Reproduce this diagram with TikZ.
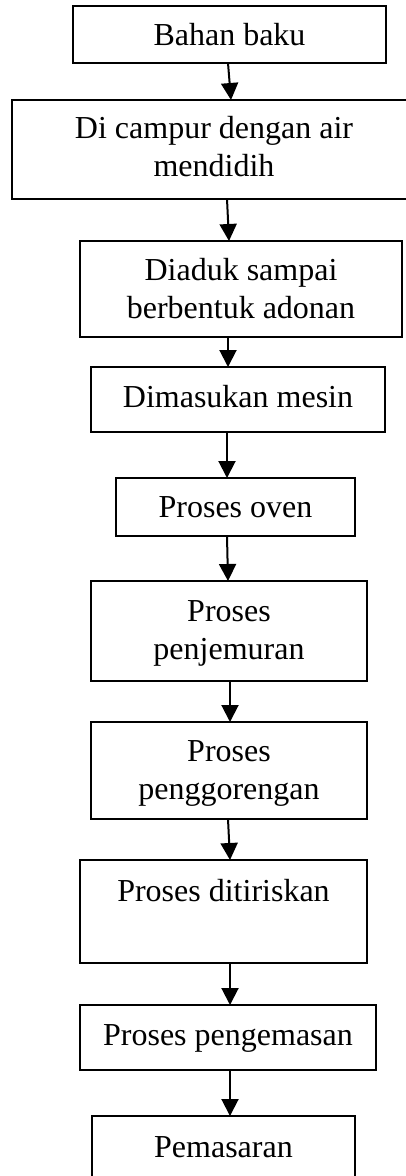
\documentclass[tikz,border=0pt]{standalone}
\usepackage{fontspec}
\setmainfont{Liberation Serif}
\usetikzlibrary{arrows.meta}
\begin{document}
\begin{tikzpicture}[x=1pt,y=-1pt,
  box/.style={draw=black, line width=1.3pt, rectangle, inner sep=0pt, outer sep=0pt},
  txt/.style={anchor=base, align=center, inner sep=0pt, font=\fontsize{32}{37.6}\selectfont},
  arr/.style={line width=2pt, -{Triangle[width=17pt,length=17pt]}}]
\useasboundingbox (0,0) rectangle (406,1176);
\clip (0,0) rectangle (406,1176);
\fill[white] (0,0) rectangle (406,1176);
% boxes
\node[box, minimum width=313pt, minimum height=57pt] (b1) at (229.5,34.5) {};
\node[box, minimum width=404pt, minimum height=99pt] (b2) at (214,149.5) {};
\node[box, minimum width=322pt, minimum height=96pt] (b3) at (241,289) {};
\node[box, minimum width=294pt, minimum height=65pt] (b4) at (238,399.5) {};
\node[box, minimum width=239pt, minimum height=58pt] (b5) at (235.5,507) {};
\node[box, minimum width=276pt, minimum height=100pt] (b6) at (229,631) {};
\node[box, minimum width=276pt, minimum height=97pt] (b7) at (229,770.5) {};
\node[box, minimum width=287pt, minimum height=103pt] (b8) at (223.5,911.5) {};
\node[box, minimum width=296pt, minimum height=65pt] (b9) at (228,1037.5) {};
\node[box, minimum width=263pt, minimum height=74pt] (b10) at (223.5,1153) {};
% texts (for two-line texts the base anchor is the last line)
\node[txt] (t1) at (229.5,45.7) {Bahan baku};
\node[txt] (t2) at (214,176) {Di campur dengan air\\mendidih};
\node[txt] (t3) at (241,318.5) {Diaduk sampai\\berbentuk adonan};
\node[txt] (t4) at (238,407.3) {Dimasukan mesin};
\node[txt] (t5) at (235.5,517.7) {Proses oven};
\node[txt] (t6) at (229,659.3) {Proses\\penjemuran};
\node[txt] (t7) at (229,799.3) {Proses\\penggorengan};
\node[txt] (t8) at (223.5,901.7) {Proses ditiriskan};
\node[txt] (t9) at (228,1045) {Proses pengemasan};
\node[txt] (t10) at (223.5,1157.7) {Pemasaran};
% arrows
\draw[arr] ([xshift=155pt]b1.south west) -- ([xshift=219pt]b2.north west);
\draw[arr] ([xshift=215pt]b2.south west) -- ([xshift=149pt]b3.north west);
\draw[arr] ([xshift=148pt]b3.south west) -- ([xshift=137pt]b4.north west);
\draw[arr] ([xshift=136pt]b4.south west) -- ([xshift=111pt]b5.north west);
\draw[arr] ([xshift=111pt]b5.south west) -- ([xshift=137pt]b6.north west);
\draw[arr] ([xshift=139pt]b6.south west) -- ([xshift=139pt]b7.north west);
\draw[arr] ([xshift=137pt]b7.south west) -- ([xshift=150pt]b8.north west);
\draw[arr] ([xshift=150pt]b8.south west) -- ([xshift=150pt]b9.north west);
\draw[arr] ([xshift=150pt]b9.south west) -- ([xshift=138pt]b10.north west);
\end{tikzpicture}
\end{document}
